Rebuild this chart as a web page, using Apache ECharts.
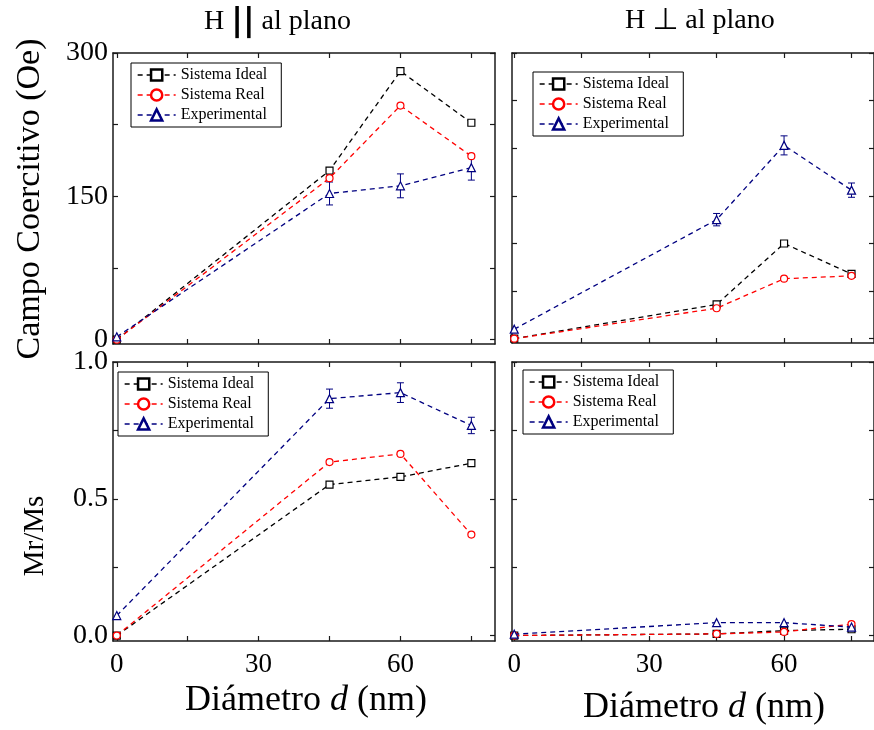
<!DOCTYPE html>
<html><head><meta charset="utf-8">
<script src="https://cdn.jsdelivr.net/npm/echarts@6/dist/echarts.min.js"></script>
<style>html,body{margin:0;padding:0;background:#fff}#c{width:874px;height:730px}</style>
</head><body><div id="c"></div>
<script>
// Particle diameter (nm)
const diam = [0, 45, 60, 75];

// Coercive field (Oe), H parallel to the plane
const hcParIdeal = [0, 177, 281, 227];
const hcParReal = [0, 169, 245, 192];
const hcParExp = [3, 153, 161, 180];
const hcParExpErr = [0, 12, 12.5, 13];

// Coercive field (Oe), H perpendicular to the plane
const hcPerIdeal = [0, 36, 100, 68];
const hcPerReal = [0, 32, 63, 66];
const hcPerExp = [10, 125, 203, 156];
const hcPerExpErr = [0, 6.5, 10, 7.5];

// Remanence ratio Mr/Ms, H parallel
const mrParIdeal = [0, 0.552, 0.580, 0.630];
const mrParReal = [0, 0.634, 0.664, 0.369];
const mrParExp = [0.073, 0.866, 0.888, 0.768];
const mrParExpErr = [0, 0.035, 0.036, 0.03];

// Remanence ratio Mr/Ms, H perpendicular
const mrPerIdeal = [0, 0.006, 0.018, 0.023];
const mrPerReal = [0, 0.006, 0.013, 0.042];
const mrPerExp = [0.005, 0.047, 0.047, 0.031];
const mrPerExpErr = [0, 0, 0, 0];

// Ticks and labels
const xTicks = [0, 15, 30, 45, 60, 75];
const xLabels = [0, 30, 60];
const hcTicksPar = [0, 75, 150, 225, 300];
const hcLabels = [0, 150, 300];
const hcTicksPer = [0, 50, 100, 150, 200, 250, 300];
const mrTicks = [0, 0.25, 0.5, 0.75, 1];
const mrLabels = [0, 0.5, 1];

const seriesNames = ['Sistema Ideal', 'Sistema Real', 'Experimental'];
const colors = ['#000000', '#ff0000', '#000080'];
const symbols = ['rect', 'circle', 'triangle'];

const SERIF = "'Liberation Serif', 'Times New Roman', serif";
const AX = '#1a1a1a';

const panels = [
  { grid: {left: 113, top: 53, width: 382, height: 291}, xmin: -0.8, ymin: -4.5, ymax: 300,
    xLab: [], yTicks: hcTicksPar, yLabels: hcLabels, fmt: v => String(v),
    data: [hcParIdeal, hcParReal, hcParExp], err: hcParExpErr,
    legend: {left: 131, top: 63} },
  { grid: {left: 512, top: 53, width: 371, height: 290}, xmin: -0.5, ymin: -4.5, ymax: 300,
    xLab: [], yTicks: hcTicksPer, yLabels: [], fmt: v => String(v),
    data: [hcPerIdeal, hcPerReal, hcPerExp], err: hcPerExpErr,
    legend: {left: 533, top: 72} },
  { grid: {left: 113, top: 362, width: 382, height: 279}, xmin: -0.8, ymin: -0.02, ymax: 1,
    xLab: xLabels, yTicks: mrTicks, yLabels: mrLabels, fmt: v => v.toFixed(1),
    data: [mrParIdeal, mrParReal, mrParExp], err: mrParExpErr,
    legend: {left: 118, top: 372} },
  { grid: {left: 512, top: 362, width: 371, height: 279}, xmin: -0.5, ymin: -0.02, ymax: 1,
    xLab: xLabels, yTicks: mrTicks, yLabels: [], fmt: v => v.toFixed(1),
    data: [mrPerIdeal, mrPerReal, mrPerExp], err: mrPerExpErr,
    legend: {left: 523, top: 370} }
];

const grid = [], xAxis = [], yAxis = [], series = [], legend = [];

panels.forEach((p, i) => {
  grid.push(Object.assign({containLabel: false}, p.grid));
  const axLine = {show: true, onZero: false, lineStyle: {color: AX, width: 1.5}};
  const tick = vals => ({show: true, inside: true, length: 5, customValues: vals, lineStyle: {color: AX, width: 1.2}});
  const baseX = {type: 'value', gridIndex: i, min: p.xmin, max: 80, splitLine: {show: false}, axisLine: axLine};
  xAxis.push(Object.assign({}, baseX, {
    position: 'bottom',
    axisTick: tick(xTicks),
    axisLabel: {show: p.xLab.length > 0, customValues: p.xLab, margin: 10, color: '#000', fontFamily: SERIF, fontSize: 27}
  }));
  xAxis.push(Object.assign({}, baseX, {position: 'top', axisTick: tick(xTicks), axisLabel: {show: false}}));
  const baseY = {type: 'value', gridIndex: i, min: p.ymin, max: p.ymax, splitLine: {show: false}, axisLine: axLine};
  yAxis.push(Object.assign({}, baseY, {
    position: 'left',
    axisTick: tick(p.yTicks),
    axisLabel: {show: p.yLabels.length > 0, customValues: p.yLabels, margin: 5, color: '#000',
      fontFamily: SERIF, fontSize: 28, formatter: p.fmt}
  }));
  yAxis.push(Object.assign({}, baseY, {position: 'right', axisTick: tick(p.yTicks), axisLabel: {show: false}}));

  p.data.forEach((arr, k) => {
    series.push({
      type: 'line', name: seriesNames[k], xAxisIndex: 2 * i, yAxisIndex: 2 * i,
      data: diam.map((x, j) => [x, arr[j]]),
      symbol: symbols[k], symbolSize: k === 2 ? 8 : 7,
      lineStyle: {color: colors[k], width: 1.3, type: [5, 4]},
      itemStyle: {color: '#ffffff', borderColor: colors[k], borderWidth: 1.2},
      z: 3 + k, animation: false
    });
  });

  // Error bars for the experimental series
  series.push({
    type: 'custom', name: 'Experimental', xAxisIndex: 2 * i, yAxisIndex: 2 * i,
    data: diam.map((x, j) => [x, p.data[2][j], p.err[j]]),
    z: 2, animation: false, silent: true,
    renderItem: (params, api) => {
      const x = api.value(0), y = api.value(1), e = api.value(2);
      if (!e) return null;
      const t = api.coord([x, y + e]), b = api.coord([x, y - e]);
      const w = 3.5, st = {stroke: colors[2], lineWidth: 1};
      return {type: 'group', children: [
        {type: 'line', shape: {x1: t[0], y1: t[1], x2: b[0], y2: b[1]}, style: st},
        {type: 'line', shape: {x1: t[0] - w, y1: t[1], x2: t[0] + w, y2: t[1]}, style: st},
        {type: 'line', shape: {x1: b[0] - w, y1: b[1], x2: b[0] + w, y2: b[1]}, style: st}
      ]};
    }
  });

  legend.push({
    data: seriesNames, orient: 'vertical', left: p.legend.left, top: p.legend.top,
    backgroundColor: '#fff', borderColor: '#000', borderWidth: 1, borderRadius: 0,
    padding: [4, 14, 4, 6], itemGap: 4, itemWidth: 38, itemHeight: 14,
    itemStyle: {borderWidth: 2.5},
    lineStyle: {width: 1.3},
    textStyle: {fontFamily: SERIF, fontSize: 16, color: '#000'},
    selectedMode: false
  });
});

const titleRich = {
  a: {fontFamily: SERIF, fontSize: 28, color: '#000'},
  b: {fontFamily: "'DejaVu Sans', sans-serif", fontWeight: 'bold', fontSize: 32, color: '#000'},
  p: {fontFamily: "'DejaVu Sans', sans-serif", fontSize: 30, color: '#000'},
  i: {fontFamily: SERIF, fontStyle: 'italic', fontSize: 36, color: '#000'},
  n: {fontFamily: SERIF, fontSize: 36, color: '#000'}
};

const graphic = [
  {type: 'text', left: 204, top: 6, style: {text: '{a|H }{b|||}{a| al plano}', rich: titleRich}},
  {type: 'text', left: 625, top: 6, style: {text: '{a|H }{p|⊥}{a| al plano}', rich: titleRich}},
  {type: 'text', left: 185, top: 683, style: {text: '{n|Diámetro }{i|d}{n| (nm)}', rich: titleRich}},
  {type: 'text', left: 583, top: 690, style: {text: '{n|Diámetro }{i|d}{n| (nm)}', rich: titleRich}},
  {type: 'text', x: 30, y: 199, rotation: Math.PI / 2,
    style: {text: 'Campo Coercitivo (Oe)', font: "34px 'Liberation Serif'", fill: '#000', align: 'center', verticalAlign: 'middle'}},
  {type: 'text', x: 35, y: 536, rotation: Math.PI / 2,
    style: {text: 'Mr/Ms', font: "29px 'Liberation Serif'", fill: '#000', align: 'center', verticalAlign: 'middle'}}
];

const chart = echarts.init(document.getElementById('c'), null, {renderer: 'canvas'});
chart.setOption({animation: false, backgroundColor: '#fff', grid, xAxis, yAxis, series, legend, graphic});
</script>
</body></html>
